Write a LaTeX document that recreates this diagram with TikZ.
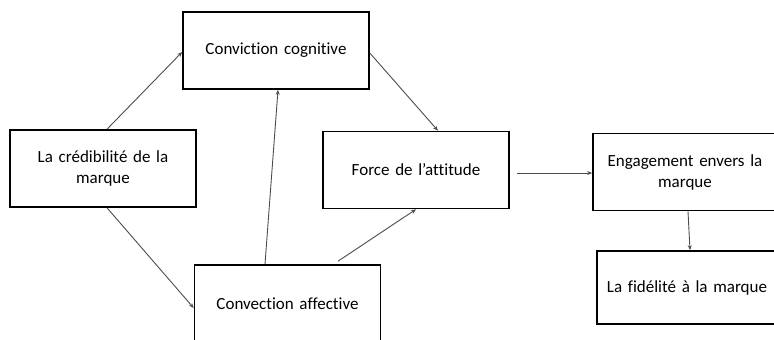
\documentclass[tikz,border=0pt]{standalone}
\usepackage{fontspec}
\setmainfont[Ligatures={NoCommon}]{Carlito}
\usetikzlibrary{arrows.meta}
\begin{document}
\begin{tikzpicture}[x=1pt,y=-1pt,
  box/.style={draw=black,line width=1.6pt,minimum width=186pt,minimum height=77pt,
    align=center,text width=176pt,font=\fontsize{17}{21}\selectfont,inner sep=0pt},
  conn/.style={draw=black!70,line width=0.9pt,-{Stealth[length=5pt,width=4pt]}}]
\useasboundingbox (0,0) rectangle (774,340);
\begin{scope}
\clip (0,0) rectangle (774,340);
\node[box] (A) at (103,168.5) {La crédibilité de la\\marque};
\node[box] (B) at (276,50.5) {Conviction cognitive};
\node[box,minimum height=78pt] (C) at (287.5,304) {Convection affective};
\node[box] (D) at (416,170) {Force de l'attitude};
\node[box,minimum width=184pt] (E) at (685,172) {Engagement envers la\\marque};
\node[box,minimum width=180pt,minimum height=73pt] (F) at (687,287.5) {La fidélité à la marque};
\end{scope}
\coordinate (Dr) at (517,173);
\draw[conn] (A.north) ++(4,0) coordinate (a1) -- (B.west |- 0,52) coordinate (b1);
\draw[conn] (A.south) ++(4,0) -- (C.west |- 0,308);
\draw[conn] (C.north -| 265,0) -- (B.south -| 278,0);
\draw[conn] (B.east |- 0,53) -- (D.north -| 438,0);
\draw[conn] (C.north -| 338,0) ++(0,-3) -- (D.south -| 416,0);
\draw[conn] (Dr) -- (E.west |- Dr);
\draw[conn] (E.south -| 688,0) -- (F.north -| 690,0);
\end{tikzpicture}
\end{document}
